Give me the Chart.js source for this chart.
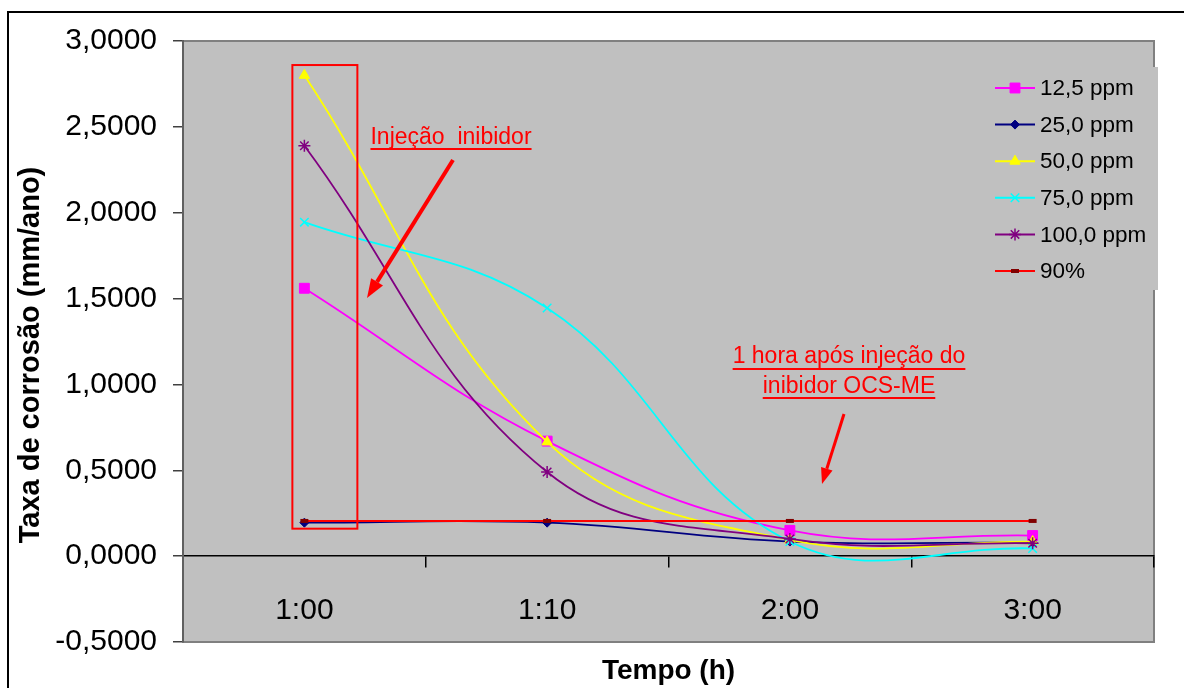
<!DOCTYPE html>
<html>
<head>
<meta charset="utf-8">
<script src="https://cdn.jsdelivr.net/npm/chart.js@4.4.1/dist/chart.umd.min.js"></script>
<style>
  html, body { margin: 0; padding: 0; background: #fff; }
  #wrap { position: relative; width: 1184px; height: 688px; }
</style>
</head>
<body>
<div id="wrap"><canvas id="corrosao" width="1184" height="688"></canvas></div>
<script>
// tempos de medição e taxas de corrosão (mm/ano)
const tempos = ["1:00", "1:10", "2:00", "3:00"];
const ppm125 = [1.56, 0.67, 0.15, 0.12];
const ppm250 = [0.195, 0.195, 0.085, 0.08];
const ppm500 = [2.80, 0.665, 0.095, 0.085];
const ppm750 = [1.945, 1.445, 0.085, 0.045];
const ppm1000 = [2.39, 0.49, 0.10, 0.075];
const p90 = [0.205, 0.205, 0.205, 0.205];
const yTicks = [-0.5, 0, 0.5, 1, 1.5, 2, 2.5, 3];

const FONTE = "Arial, 'Liberation Sans', Helvetica, sans-serif";
Chart.defaults.font.family = FONTE;

const series = [
  { label: "12,5 ppm", data: ppm125, cor: "#FF00FF", ponto: "#FF00FF", estilo: "rect", r: 7, bw: 1 },
  { label: "25,0 ppm", data: ppm250, cor: "#000080", ponto: "#000080", estilo: "rectRot", r: 4.5, bw: 1 },
  { label: "50,0 ppm", data: ppm500, cor: "#FFFF00", ponto: "#FFFF00", estilo: "triangle", r: 6, bw: 1 },
  { label: "75,0 ppm", data: ppm750, cor: "#00FFFF", ponto: "#00FFFF", estilo: "crossRot", r: 6, bw: 1.5 },
  { label: "100,0 ppm", data: ppm1000, cor: "#800080", ponto: "#800080", estilo: "star", r: 6, bw: 1.5 },
  { label: "90%", data: p90, cor: "#FF0000", ponto: "#800000", estilo: "line", r: 4, bw: 4 }
];

const datasets = series.map((s, i) => ({
  label: s.label,
  data: s.data,
  borderColor: s.cor,
  backgroundColor: s.cor,
  borderWidth: s.label === "90%" ? 2 : 1.8,
  pointStyle: s.estilo,
  pointRadius: s.r,
  pointBorderWidth: s.bw,
  pointBackgroundColor: s.ponto,
  pointBorderColor: s.ponto,
  tension: 0.4,
  fill: false,
  order: series.length - i
}));

// fundo cinza da área de plotagem e moldura externa
const moldura = {
  id: "moldura",
  beforeDraw(chart) {
    const { ctx, chartArea: a } = chart;
    ctx.save();
    ctx.fillStyle = "#fff";
    ctx.fillRect(0, 0, chart.width, chart.height);
    ctx.strokeStyle = "#000";
    ctx.lineWidth = 2;
    ctx.beginPath();
    ctx.moveTo(8, chart.height);
    ctx.lineTo(8, 12);
    ctx.lineTo(chart.width, 12);
    ctx.stroke();
    ctx.fillStyle = "#C0C0C0";
    ctx.fillRect(a.left, a.top, a.width, a.height);
    ctx.strokeStyle = "#808080";
    ctx.lineWidth = 2;
    ctx.strokeRect(a.left, a.top, a.width, a.height);
    ctx.restore();
  }
};

function seta(ctx, x1, y1, x2, y2, w, head, half) {
  const ang = Math.atan2(y2 - y1, x2 - x1);
  const bx = x2 - head * Math.cos(ang), by = y2 - head * Math.sin(ang);
  ctx.lineWidth = w;
  ctx.beginPath();
  ctx.moveTo(x1, y1);
  ctx.lineTo(bx, by);
  ctx.stroke();
  ctx.beginPath();
  ctx.moveTo(x2, y2);
  ctx.lineTo(bx + half * Math.sin(ang), by - half * Math.cos(ang));
  ctx.lineTo(bx - half * Math.sin(ang), by + half * Math.cos(ang));
  ctx.closePath();
  ctx.fill();
}

function textoSublinhado(ctx, txt, cx, cy, uy) {
  ctx.fillText(txt, cx, cy);
  const w = ctx.measureText(txt).width;
  ctx.fillRect(cx - w / 2, uy - 1, w, 2);
}

// anotações em vermelho
const anotacoes = {
  id: "anotacoes",
  afterDatasetsDraw(chart) {
    const { ctx } = chart;
    const xs = chart.scales.x, ys = chart.scales.y;
    ctx.save();
    ctx.strokeStyle = "#FF0000";
    ctx.fillStyle = "#FF0000";
    ctx.lineWidth = 2;
    const x0 = xs.getPixelForValue(0);
    const top = ys.getPixelForValue(2.86), bot = ys.getPixelForValue(0.16);
    ctx.strokeRect(x0 - 12, top, 65, bot - top);

    ctx.font = "23px " + FONTE;
    ctx.textAlign = "center";
    ctx.textBaseline = "middle";
    textoSublinhado(ctx, "Injeção  inibidor", 451, 138, 149);
    textoSublinhado(ctx, "1 hora após injeção do", 849, 357, 369);
    textoSublinhado(ctx, "inibidor OCS-ME", 849, 387, 398);

    seta(ctx, 453, 160, 367, 298, 4, 19, 7);
    seta(ctx, 844, 414, 822, 484, 3, 16, 6);
    ctx.restore();
  }
};

// títulos dos eixos e legenda
const legenda = {
  id: "legenda",
  afterDraw(chart) {
    const { ctx, chartArea: a } = chart;
    ctx.save();
    ctx.fillStyle = "#000";
    ctx.font = "bold 28px " + FONTE;
    ctx.textAlign = "center";
    ctx.textBaseline = "middle";
    ctx.fillText("Tempo (h)", (a.left + a.right) / 2, 671);
    ctx.font = "bold 29px " + FONTE;
    ctx.translate(31, 355);
    ctx.rotate(-Math.PI / 2);
    ctx.fillText("Taxa de corrosão (mm/ano)", 0, 0);
    ctx.restore();

    ctx.save();
    ctx.fillStyle = "#C0C0C0";
    ctx.fillRect(975, 67, 183, 223);
    ctx.font = "22.5px " + FONTE;
    ctx.textAlign = "left";
    ctx.textBaseline = "middle";
    chart.data.datasets.forEach((ds, i) => {
      const y = 88 + i * 36.6;
      ctx.strokeStyle = ds.borderColor;
      ctx.lineWidth = 2;
      ctx.beginPath();
      ctx.moveTo(995, y);
      ctx.lineTo(1035, y);
      ctx.stroke();
      ctx.fillStyle = ds.pointBackgroundColor;
      ctx.strokeStyle = ds.pointBorderColor;
      ctx.lineWidth = ds.pointBorderWidth;
      Chart.helpers.drawPoint(ctx, {
        pointStyle: ds.pointStyle, radius: ds.pointRadius, rotation: 0, borderWidth: ds.pointBorderWidth
      }, 1015, y);
      ctx.fillStyle = "#000";
      ctx.fillText(ds.label, 1040, y + 1);
    });
    ctx.restore();
  }
};

new Chart(document.getElementById("corrosao"), {
  type: "line",
  data: { labels: tempos, datasets: datasets },
  options: {
    responsive: false,
    animation: false,
    layout: { padding: { left: 0, top: 41, right: 30, bottom: 46 } },
    plugins: { legend: { display: false }, tooltip: { enabled: false } },
    scales: {
      x: {
        position: { y: 0 },
        offset: true,
        grid: { offset: true, drawOnChartArea: false, drawTicks: true, tickLength: 11, color: "#000", lineWidth: 1.5 },
        border: { display: true, color: "#000", width: 1.5 },
        ticks: { color: "#000", font: { size: 30, lineHeight: 1.2 }, padding: 26, maxRotation: 0, autoSkip: false },
        afterFit(s) { s.height = 0; }
      },
      y: {
        min: -0.5,
        max: 3,
        afterBuildTicks(s) { s.ticks = yTicks.map(v => ({ value: v })); },
        grid: { drawOnChartArea: false, tickLength: 10, color: "#404040", lineWidth: 1.5 },
        border: { color: "#606060", width: 2 },
        ticks: {
          color: "#000", font: { size: 30 }, padding: 16,
          callback: v => v.toFixed(4).replace(".", ",")
        },
        afterFit(s) { s.width = 183; }
      }
    }
  },
  plugins: [moldura, anotacoes, legenda]
});
</script>
</body>
</html>
